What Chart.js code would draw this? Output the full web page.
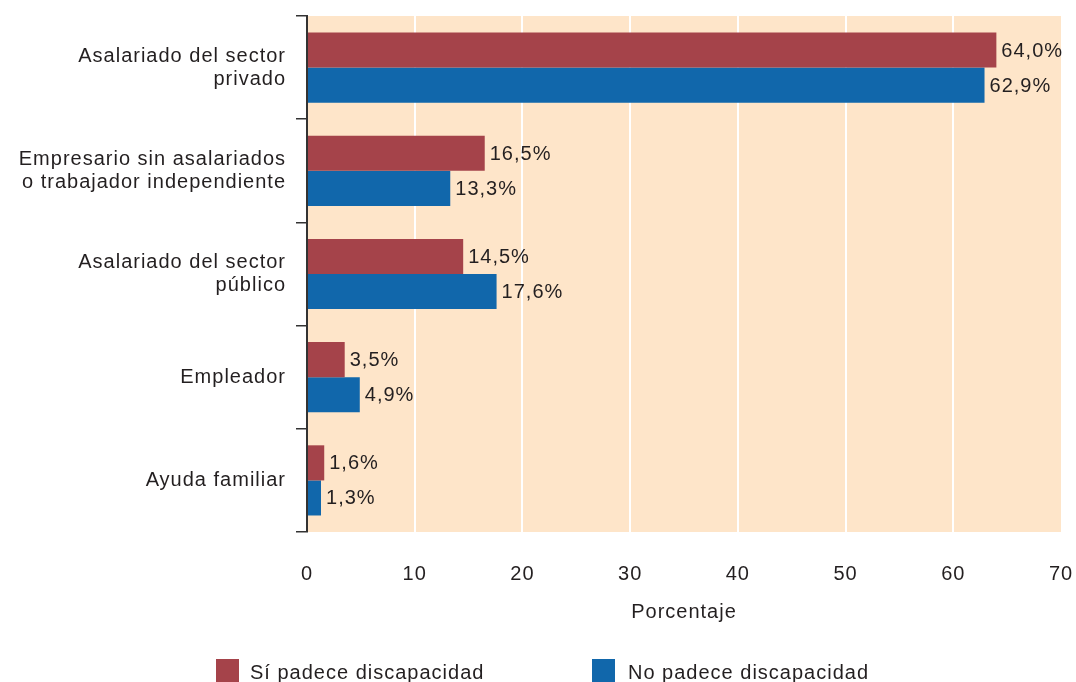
<!DOCTYPE html>
<html>
<head>
<meta charset="utf-8">
<script src="https://cdn.jsdelivr.net/npm/chart.js@4"></script>
<style>
html,body{margin:0;padding:0;background:#fff;}
#wrap{width:1076px;height:682px;position:relative;}
</style>
</head>
<body>
<div id="wrap"><canvas id="c" width="1076" height="682"></canvas></div>
<script>
const categories = [
  ["Asalariado del sector", "privado"],
  ["Empresario sin asalariados", "o trabajador independiente"],
  ["Asalariado del sector", "público"],
  "Empleador",
  "Ayuda familiar"
];
const siPadece = [64.0, 16.5, 14.5, 3.5, 1.6];
const noPadece = [62.9, 13.3, 17.6, 4.9, 1.3];
const xTicks = [0, 10, 20, 30, 40, 50, 60, 70];
const seriesNames = ["Sí padece discapacidad", "No padece discapacidad"];
const xTitle = "Porcentaje";

const FONT = "'Liberation Sans', Arial, sans-serif";
const TXT = '#231f20';
const SPACING = '1px';
const PEACH = '#fee5c9';
const RED = '#a5434a';
const BLUE = '#1167ab';

const spacingPlugin = {
  id: 'spacing',
  beforeInit(chart) { chart.ctx.letterSpacing = SPACING; },
  beforeDraw(chart) {
    const {ctx, chartArea} = chart;
    ctx.letterSpacing = SPACING;
    ctx.save();
    ctx.fillStyle = PEACH;
    ctx.fillRect(chartArea.left, chartArea.top, chartArea.right - chartArea.left, chartArea.bottom - chartArea.top);
    ctx.restore();
  },
  afterDatasetsDraw(chart) {
    const {ctx} = chart;
    ctx.save();
    ctx.letterSpacing = SPACING;
    ctx.font = '20px ' + FONT;
    ctx.fillStyle = TXT;
    ctx.textAlign = 'left';
    ctx.textBaseline = 'middle';
    chart.data.datasets.forEach((ds, di) => {
      const meta = chart.getDatasetMeta(di);
      meta.data.forEach((el, i) => {
        const v = ds.data[i];
        ctx.fillText(v.toFixed(1).replace('.', ',') + '%', el.x + 5, el.y + 1);
      });
    });
    ctx.restore();
  },
  afterDraw(chart) {
    const {ctx} = chart;
    ctx.save();
    ctx.letterSpacing = SPACING;
    ctx.font = '20px ' + FONT;
    ctx.textBaseline = 'alphabetic';
    ctx.textAlign = 'left';
    const pos = [{bx: 216, tx: 250}, {bx: 592, tx: 628}];
    chart.data.datasets.forEach((ds, di) => {
      const p = pos[di];
      ctx.fillStyle = ds.backgroundColor;
      ctx.fillRect(p.bx, 659, 23, 30);
      ctx.fillStyle = TXT;
      ctx.fillText(ds.label, p.tx, 679);
    });
    ctx.restore();
  }
};

new Chart(document.getElementById('c'), {
  type: 'bar',
  data: {
    labels: categories,
    datasets: [
      {label: seriesNames[0], data: siPadece, backgroundColor: RED, borderWidth: 0},
      {label: seriesNames[1], data: noPadece, backgroundColor: BLUE, borderWidth: 0}
    ]
  },
  options: {
    indexAxis: 'y',
    responsive: false,
    animation: false,
    devicePixelRatio: 1,
    layout: {padding: {top: 16, right: 15, bottom: 55, left: 0}},
    categoryPercentage: 0.68,
    barPercentage: 1.0,
    plugins: {legend: {display: false}, tooltip: {enabled: false}},
    scales: {
      x: {
        min: 0, max: 70,
        afterFit(scale) { scale.height = 95; scale.paddingLeft = 0; scale.paddingRight = 0; },
        afterBuildTicks(scale) { scale.ticks = xTicks.map(v => ({value: v})); },
        grid: {
          color: (c) => (c.tick && (c.tick.value === 0 || c.tick.value === 70)) ? 'rgba(0,0,0,0)' : '#ffffff',
          lineWidth: 2,
          drawTicks: false
        },
        border: {display: false},
        ticks: {color: TXT, font: {size: 20, family: FONT}, padding: 30, maxRotation: 0},
        title: {display: true, text: xTitle, color: TXT, font: {size: 20, family: FONT}, padding: {top: 0, bottom: 3}}
      },
      y: {
        afterFit(scale) { scale.width = 307; scale.paddingTop = 0; scale.paddingBottom = 0; },
        offset: true,
        grid: {offset: true, drawOnChartArea: false, drawTicks: true, tickLength: 11, color: '#333', lineWidth: 1.5},
        border: {display: true, color: '#333', width: 2},
        ticks: {color: TXT, font: {size: 20, family: FONT, lineHeight: 1.15}, padding: 10, crossAlign: 'near'}
      }
    }
  },
  plugins: [spacingPlugin]
});
</script>
</body>
</html>
